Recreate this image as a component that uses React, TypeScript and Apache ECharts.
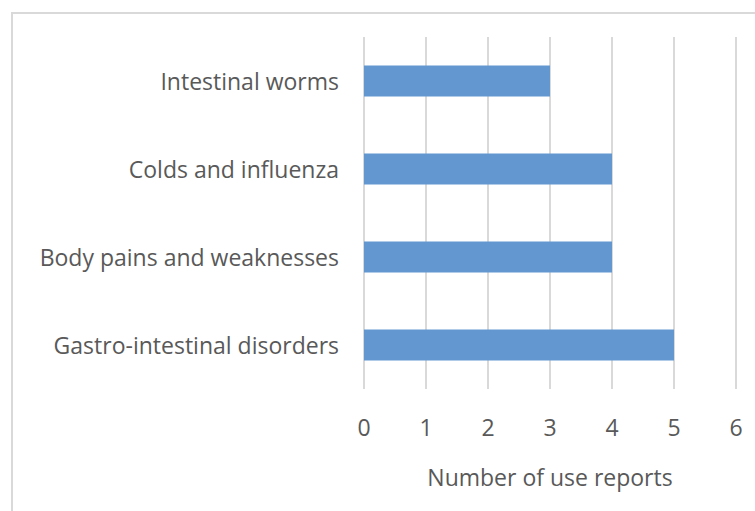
import React, { useEffect, useRef } from "react";
import * as echarts from "echarts";

const categories = [
  "Gastro-intestinal disorders",
  "Body pains and weaknesses",
  "Colds and influenza",
  "Intestinal worms",
];
const values = [5, 4, 4, 3];
const xTicks = [0, 1, 2, 3, 4, 5, 6];

const FONT = "Open Sans";
const TEXT = "#595959";

export default function App() {
  const ref = useRef<HTMLDivElement>(null);
  useEffect(() => {
    document.body.style.margin = "0";
    const chart = echarts.init(ref.current!, null, { renderer: "svg" });
    chart.setOption({
      animation: false,
      backgroundColor: "#ffffff",
      graphic: [
        {
          type: "rect",
          shape: { x: 12, y: 13, width: 800, height: 600 },
          style: { fill: "none", stroke: "#d9d9d9", lineWidth: 2 },
          silent: true,
        },
      ],
      grid: { left: 364, right: 19, top: 37, bottom: 122, containLabel: false },
      xAxis: {
        type: "value",
        min: xTicks[0],
        max: xTicks[xTicks.length - 1],
        interval: 1,
        axisLine: { show: false },
        axisTick: { show: false },
        splitLine: { show: true, lineStyle: { color: "#d9d9d9", width: 2 } },
        axisLabel: { margin: 26, color: TEXT, fontFamily: FONT, fontSize: 23 },
        name: "Number of use reports",
        nameLocation: "middle",
        nameGap: 76,
        nameTextStyle: { color: TEXT, fontFamily: FONT, fontSize: 23 },
      },
      yAxis: {
        type: "category",
        data: categories,
        axisLine: { show: false },
        axisTick: { show: false },
        axisLabel: { margin: 25, color: TEXT, fontFamily: FONT, fontSize: 23 },
      },
      series: [
        {
          type: "bar",
          data: values,
          barWidth: 31,
          itemStyle: { color: "#6397d0" },
        },
      ],
    });
    return () => chart.dispose();
  }, []);
  return (
    <div
      ref={ref}
      style={{ position: "absolute", left: 0, top: 0, width: 755, height: 511 }}
    />
  );
}
